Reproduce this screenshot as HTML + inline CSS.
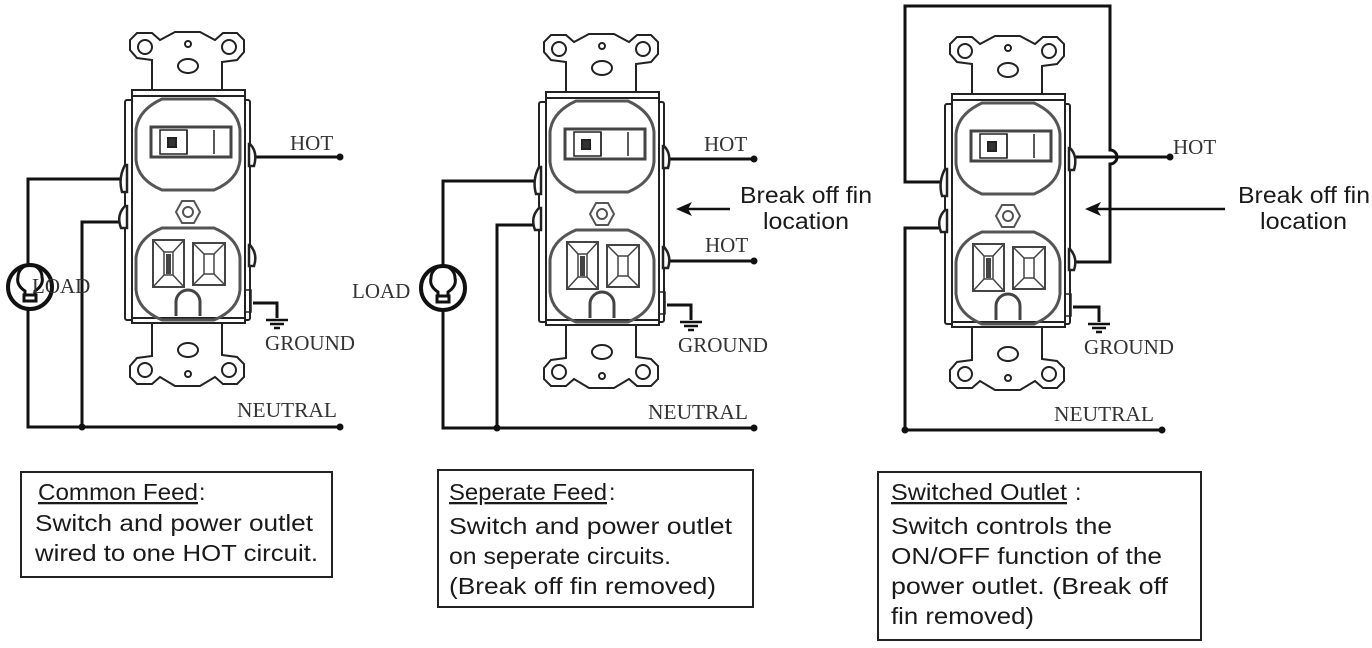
<!DOCTYPE html>
<html><head><style>
body{margin:0;background:#fff;}
svg{display:block}
.t{font-family:"Liberation Serif",serif;font-size:21px;fill:#333}
.s{font-family:"Liberation Sans",sans-serif;font-size:23px;fill:#1a1a1a}
</style></head><body>
<svg width="1372" height="648" viewBox="0 0 1372 648" xmlns="http://www.w3.org/2000/svg">
<defs>
<g id="dev" fill="none" stroke="#222" stroke-width="2">
  <path d="M152 92 L152 60 L137 58 L130 50 L130 40 L137 33 L152 33 L160 40 L175 32 L200 32 L215 40 L223 33 L237 33 L244 40 L244 52 L237 60 L222 62 L222 92" fill="#fff"/>
  <circle cx="145" cy="47" r="7"/><circle cx="229" cy="47" r="7"/>
  <circle cx="188" cy="44" r="3"/><ellipse cx="188" cy="66" rx="10" ry="7"/>
  <path d="M152 322 L152 356 L137 358 L130 366 L130 377 L137 384 L152 384 L160 377 L175 386 L200 386 L215 377 L223 384 L237 384 L244 377 L244 364 L237 357 L222 355 L222 322" fill="#fff"/>
  <circle cx="145" cy="370" r="7"/><circle cx="229" cy="370" r="7"/>
  <circle cx="188" cy="374" r="3"/><ellipse cx="188" cy="350" rx="10" ry="7"/>
  <rect x="125" y="100" width="125" height="220" rx="2"/>
  <rect x="132" y="90" width="113" height="233" fill="#fff"/>
  <path d="M132 96 H245 M132 318 H245"/>
  <path d="M162 99 H214 Q238 110 240 130 V160 Q238 180 214 190 H162 Q138 180 136 160 V130 Q138 110 162 99 Z" stroke="#555" stroke-width="3"/>
  <rect x="151" y="127" width="80" height="30" stroke="#444" stroke-width="3"/>
  <rect x="160" y="130" width="27" height="24" stroke-width="1.5"/>
  <rect x="168" y="138" width="8" height="9" fill="#333"/>
  <path d="M187 130 V154 M214 130 V154" stroke-width="1.5"/>
  <polygon points="182,201 194,201 200,212 194,223 182,223 176,212" stroke="#555" stroke-width="2"/>
  <circle cx="188" cy="212" r="5" stroke="#555"/>
  <path d="M162 228 H214 Q238 238 240 258 V290 Q238 310 214 320 H162 Q138 310 136 290 V258 Q138 238 162 228 Z" stroke="#555" stroke-width="3"/>
  <rect x="153" y="240" width="31" height="47" stroke="#444"/>
  <path d="M153 240 L164 252 M184 240 L173 252 M153 287 L164 275 M184 287 L173 275 M164 252 H173 V275 H164 Z" stroke="#444" stroke-width="1.5"/>
  <rect x="166" y="254" width="5" height="20" fill="#444" stroke="none"/>
  <rect x="193" y="243" width="32" height="42" stroke="#444"/>
  <path d="M193 243 L204 254 M225 243 L214 254 M193 285 L204 274 M225 285 L214 274 M204 254 H214 V274 H204 Z" stroke="#444" stroke-width="1.5"/>
  <path d="M176 316 V302 A12 12 0 0 1 200 302 V316" stroke="#444" stroke-width="3"/>
  <path d="M125 165 Q118 178 122 192 L127 192 L127 165 Z" fill="#fff" stroke-width="2.5"/>
  <path d="M125 206 Q116 215 121 228 L127 228 L127 206 Z" fill="#fff" stroke-width="2.5"/>
  <path d="M250 144 Q258 152 254 166 L249 166 L249 144 Z" fill="#fff" stroke-width="2.5"/>
  <path d="M250 245 Q258 254 254 266 L249 266 L249 245 Z" fill="#fff" stroke-width="2.5"/>
  <rect x="245" y="290" width="6" height="22" stroke-width="1.5"/>
</g>
<g id="lamp" fill="none" stroke="#111">
  <circle r="22" stroke-width="4"/>
  <path d="M-5 8 L-5 4 Q-14 -2 -12 -10 A12 12 0 0 1 12 -10 Q14 -2 5 4 L5 8" stroke-width="3"/>
  <rect x="-6" y="8" width="12" height="6" stroke-width="3"/>
</g>
<g id="gnd" stroke="#111" stroke-width="2.5" fill="#111">
  <path d="M-11 0 H11 M-7 4 H7 M-3 8 H3"/>
</g>
</defs>

<g stroke="#111" stroke-width="3" fill="none">
<path d="M121 179 H28 V265 M28 309 V427 H340"/>
<path d="M120 222 H82 V427"/>
<path d="M256 157 H340"/>
<path d="M253 303 H277 V318"/>
<path d="M535 181 H443 V266 M443 310 V428 H754"/>
<path d="M534 225 H497 V428"/>
<path d="M670 159 H754"/>
<path d="M670 261 H754"/>
<path d="M667 305 H691 V320"/>
<path d="M941 182 H905 V6 H1110 V150 A7 7 0 0 1 1110 164 V262 H1075"/>
<path d="M940 228 H905 V430 H1162"/>
<path d="M1075 157 H1170"/>
<path d="M1073 307 H1099 V322"/>
</g>
<g stroke="#111" stroke-width="2.5">
<path d="M730 209 H686"/><path d="M1225 209 H1096"/>
</g>
<polygon points="676,209 692,202 688,209 692,216" fill="#111"/>
<polygon points="1085,209 1101,202 1097,209 1101,216" fill="#111"/>
<g fill="#111">
<circle cx="340" cy="157" r="3.5"/><circle cx="340" cy="427" r="3.5"/><circle cx="82" cy="427" r="3.5"/>
<circle cx="754" cy="159" r="3.5"/><circle cx="754" cy="261" r="3.5"/><circle cx="754" cy="428" r="3.5"/><circle cx="497" cy="428" r="3.5"/>
<circle cx="1170" cy="157" r="3.5"/><circle cx="1162" cy="430" r="3.5"/><circle cx="905" cy="430" r="3.5"/>
</g>
<use href="#gnd" x="277" y="320"/><use href="#gnd" x="691" y="322"/><use href="#gnd" x="1099" y="324"/>

<use href="#dev"/>
<use href="#dev" x="414" y="2"/>
<use href="#dev" x="820" y="4"/>
<use href="#lamp" x="30" y="287"/>
<use href="#lamp" x="443" y="288"/>

<text class="t" x="290" y="150">HOT</text>
<text class="t" x="32" y="293">LOAD</text>
<text class="t" x="265" y="350" textLength="90" lengthAdjust="spacingAndGlyphs">GROUND</text>
<text class="t" x="237" y="417" textLength="100" lengthAdjust="spacingAndGlyphs">NEUTRAL</text>
<text class="t" x="704" y="151">HOT</text>
<text class="t" x="705" y="252">HOT</text>
<text class="t" x="352" y="298">LOAD</text>
<text class="t" x="678" y="352" textLength="90" lengthAdjust="spacingAndGlyphs">GROUND</text>
<text class="t" x="648" y="419" textLength="100" lengthAdjust="spacingAndGlyphs">NEUTRAL</text>
<text class="t" x="1173" y="154">HOT</text>
<text class="t" x="1084" y="354" textLength="90" lengthAdjust="spacingAndGlyphs">GROUND</text>
<text class="t" x="1054" y="421" textLength="100" lengthAdjust="spacingAndGlyphs">NEUTRAL</text>
<text class="s" x="740" y="203" textLength="132" lengthAdjust="spacingAndGlyphs">Break off fin</text>
<text class="s" x="763" y="229" textLength="86" lengthAdjust="spacingAndGlyphs">location</text>
<text class="s" x="1238" y="203" textLength="132" lengthAdjust="spacingAndGlyphs">Break off fin</text>
<text class="s" x="1260" y="229" textLength="87" lengthAdjust="spacingAndGlyphs">location</text>

<g fill="none" stroke="#222" stroke-width="2">
<rect x="21" y="472" width="311" height="105"/>
<rect x="438" y="470" width="315" height="137"/>
<rect x="878" y="472" width="323" height="168"/>
</g>
<text class="s" x="38" y="500" text-decoration="underline" textLength="160" lengthAdjust="spacingAndGlyphs">Common Feed</text><text class="s" x="199" y="500">:</text>
<text class="s" x="35" y="531" textLength="278" lengthAdjust="spacingAndGlyphs">Switch and power outlet</text>
<text class="s" x="35" y="561" textLength="283" lengthAdjust="spacingAndGlyphs">wired to one HOT circuit.</text>
<text class="s" x="449" y="500" text-decoration="underline" textLength="158" lengthAdjust="spacingAndGlyphs">Seperate Feed</text><text class="s" x="609" y="500">:</text>
<text class="s" x="449" y="534" textLength="283" lengthAdjust="spacingAndGlyphs">Switch and power outlet</text>
<text class="s" x="449" y="564" textLength="222" lengthAdjust="spacingAndGlyphs">on seperate circuits.</text>
<text class="s" x="449" y="594" textLength="267" lengthAdjust="spacingAndGlyphs">(Break off fin removed)</text>
<text class="s" x="891" y="500" text-decoration="underline" textLength="176" lengthAdjust="spacingAndGlyphs">Switched Outlet</text><text class="s" x="1075" y="500">:</text>
<text class="s" x="891" y="534" textLength="221" lengthAdjust="spacingAndGlyphs">Switch controls the</text>
<text class="s" x="891" y="564" textLength="271" lengthAdjust="spacingAndGlyphs">ON/OFF function of the</text>
<text class="s" x="891" y="594" textLength="277" lengthAdjust="spacingAndGlyphs">power outlet. (Break off</text>
<text class="s" x="891" y="624" textLength="143" lengthAdjust="spacingAndGlyphs">fin removed)</text>
</svg>
</body></html>
